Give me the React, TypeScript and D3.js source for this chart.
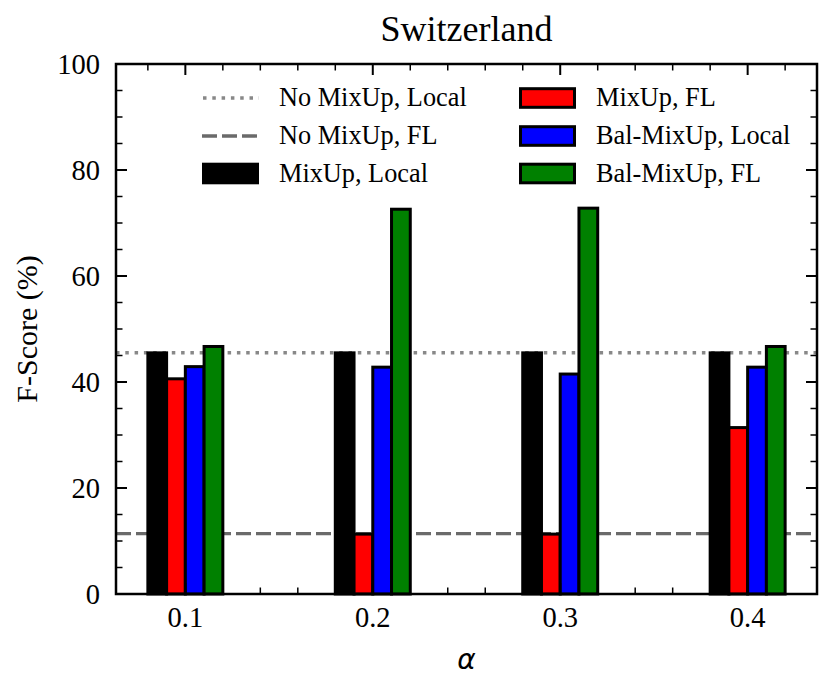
import * as d3 from "d3";

const alphas = [0.1, 0.2, 0.3, 0.4];
const seriesNames = ["MixUp, Local", "MixUp, FL", "Bal-MixUp, Local", "Bal-MixUp, FL"];
const seriesColors = ["#000000", "#ff0000", "#0000ff", "#008000"];
const mixupLocal = [45.5, 45.5, 45.5, 45.5];
const mixupFL = [40.6, 11.3, 11.3, 31.4];
const balLocal = [42.9, 42.8, 41.5, 42.8];
const balFL = [46.7, 72.6, 72.8, 46.7];
const noMixupLocal = 45.5;
const noMixupFL = 11.4;
const yTicks = [0, 20, 40, 60, 80, 100];

const W = 830;
const H = 686;
const margin = { top: 64, right: 13, bottom: 92, left: 116 };
const serif = "'Liberation Serif', 'Times New Roman', serif";

export default function App() {
  const series = [mixupLocal, mixupFL, balLocal, balFL];
  const barW = 0.01;
  const x = d3
    .scaleLinear()
    .domain([0.063, 0.437])
    .range([margin.left, W - margin.right]);
  const y = d3
    .scaleLinear()
    .domain([0, 100])
    .range([H - margin.bottom, margin.top]);
  const [x0, x1] = x.range();
  const [yb, yt] = y.range();

  // minor ticks every 0.02 on x, every 5 on y
  const xMinor = d3.range(0.08, 0.4201, 0.02).filter(v => Math.abs(v * 10 - Math.round(v * 10)) > 1e-6);
  const yMinor = d3.range(5, 100, 5).filter(v => v % 20 !== 0);

  const legendRows = [98, 136, 173.5];
  const col1 = 202;
  const col2 = 519;
  const handleW = 57;

  return (
    <svg width={W} height={H} style={{ position: "absolute", left: 0, top: 0 }}>
      <rect width={W} height={H} fill="#fff" />
      <text x={(x0 + x1) / 2} y={41} textAnchor="middle" fontFamily={serif} fontSize={36}>
        Switzerland
      </text>

      {/* reference lines */}
      <line x1={x0} x2={x1} y1={y(noMixupLocal)} y2={y(noMixupLocal)} stroke="#888" strokeWidth={3.5} strokeDasharray="3.5,5.8" />
      <line x1={x0} x2={x1} y1={y(noMixupFL)} y2={y(noMixupFL)} stroke="#6a6a6a" strokeWidth={3.4} strokeDasharray="15,5" />

      {/* bars */}
      {series.map((vals, si) =>
        vals.map((v, i) => {
          const left = alphas[i] + (si - 2) * barW;
          return (
            <rect
              key={`${si}-${i}`}
              x={x(left)}
              y={y(v)}
              width={x(left + barW) - x(left)}
              height={y(0) - y(v)}
              fill={seriesColors[si]}
              stroke="#000"
              strokeWidth={3}
            />
          );
        })
      )}

      {/* ticks */}
      {alphas.map(a => (
        <g key={`xt${a}`}>
          <line x1={x(a)} x2={x(a)} y1={yb} y2={yb - 11} stroke="#000" strokeWidth={2} />
          <line x1={x(a)} x2={x(a)} y1={yt} y2={yt + 11} stroke="#000" strokeWidth={2} />
          <text x={x(a)} y={yb + 33} textAnchor="middle" fontFamily={serif} fontSize={28.5}>
            {a.toFixed(1)}
          </text>
        </g>
      ))}
      {xMinor.map(a => (
        <g key={`xm${a}`}>
          <line x1={x(a)} x2={x(a)} y1={yb} y2={yb - 6.5} stroke="#000" strokeWidth={1.5} />
          <line x1={x(a)} x2={x(a)} y1={yt} y2={yt + 6.5} stroke="#000" strokeWidth={1.5} />
        </g>
      ))}
      {yTicks.map(t => (
        <g key={`yt${t}`}>
          <line x1={x0} x2={x0 + 11} y1={y(t)} y2={y(t)} stroke="#000" strokeWidth={2} />
          <line x1={x1} x2={x1 - 11} y1={y(t)} y2={y(t)} stroke="#000" strokeWidth={2} />
          <text x={x0 - 16} y={y(t) + 10} textAnchor="end" fontFamily={serif} fontSize={28.5}>
            {t}
          </text>
        </g>
      ))}
      {yMinor.map(t => (
        <g key={`ym${t}`}>
          <line x1={x0} x2={x0 + 6.5} y1={y(t)} y2={y(t)} stroke="#000" strokeWidth={1.5} />
          <line x1={x1} x2={x1 - 6.5} y1={y(t)} y2={y(t)} stroke="#000" strokeWidth={1.5} />
        </g>
      ))}

      {/* frame */}
      <rect x={x0} y={yt} width={x1 - x0} height={yb - yt} fill="none" stroke="#000" strokeWidth={2.5} />

      {/* axis labels */}
      <text x={(x0 + x1) / 2} y={669} textAnchor="middle" fontFamily="'DejaVu Sans', sans-serif" fontStyle="italic" fontSize={28}>
        α
      </text>
      <text
        transform={`translate(37,${(yt + yb) / 2}) rotate(-90)`}
        textAnchor="middle"
        fontFamily={serif}
        fontSize={30}
      >
        F-Score (%)
      </text>

      {/* legend */}
      <g>
        <line x1={col1 + 1} x2={col1 + handleW} y1={legendRows[0]} y2={legendRows[0]} stroke="#888" strokeWidth={3.5} strokeDasharray="3.5,5.8" />
        <text x={279} y={legendRows[0] + 8} fontFamily={serif} fontSize={26.3}>No MixUp, Local</text>
        <line x1={col1} x2={col1 + handleW} y1={legendRows[1]} y2={legendRows[1]} stroke="#6a6a6a" strokeWidth={3.4} strokeDasharray="15,5" />
        <text x={279} y={legendRows[1] + 8} fontFamily={serif} fontSize={26.3}>No MixUp, FL</text>
        {seriesNames.map((name, si) => {
          const cx = si === 0 ? col1 : col2;
          const cy = si === 0 ? legendRows[2] : legendRows[si - 1];
          return (
            <g key={name}>
              <rect x={cx + 1.5} y={cy - 9.3} width={handleW - 3} height={18.6} fill={seriesColors[si]} stroke="#000" strokeWidth={3} />
              <text x={cx + handleW + 20} y={cy + 8} fontFamily={serif} fontSize={26.3}>{name}</text>
            </g>
          );
        })}
      </g>
    </svg>
  );
}
